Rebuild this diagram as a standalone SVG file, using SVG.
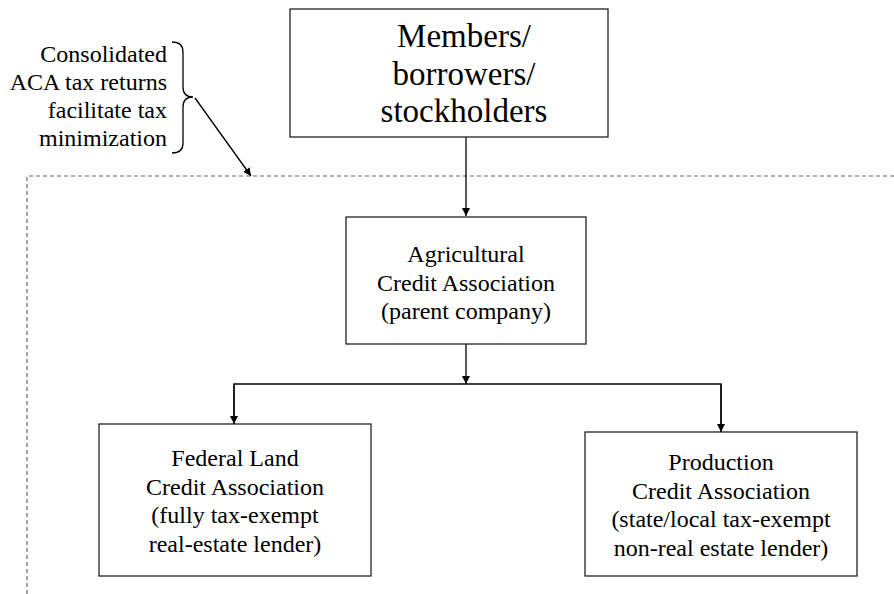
<svg xmlns="http://www.w3.org/2000/svg" width="894" height="594" viewBox="0 0 894 594">
<style>
  .box { fill: #fff; stroke: #222; stroke-width: 1.3; }
  .t { font-family: "Liberation Serif", "Times New Roman", serif; fill: #000; text-anchor: middle; }
  .big { font-size: 33px; }
  .med { font-size: 24px; }
  .ann { font-family: "Liberation Serif", "Times New Roman", serif; font-size: 24px; fill: #000; text-anchor: end; }
  .conn { stroke: #000; stroke-width: 1.3; fill: none; }
  .dash { stroke: #666; stroke-width: 1.2; fill: none; stroke-dasharray: 4 3; }
</style>
<defs>
  <marker id="ah" viewBox="0 0 10 10" refX="10" refY="5" markerWidth="8" markerHeight="8" markerUnits="userSpaceOnUse" orient="auto">
    <path d="M0,0 L10,5 L0,10 Z" fill="#000"/>
  </marker>
</defs>

<g id="boundary">
  <path class="dash" d="M27,594 L27,176 L894,176"/>
</g>

<g id="connectors">
  <line class="conn" x1="466" y1="137" x2="466" y2="216" marker-end="url(#ah)"/>
  <line class="conn" x1="466" y1="344" x2="466" y2="384" marker-end="url(#ah)"/>
  <path class="conn" d="M234,424 L234,384 L721,384 L721,432"/>
  <line class="conn" x1="234" y1="384" x2="234" y2="424" marker-end="url(#ah)"/>
  <line class="conn" x1="721" y1="384" x2="721" y2="432" marker-end="url(#ah)"/>
  <line class="conn" x1="195" y1="98" x2="251" y2="176" marker-end="url(#ah)"/>
</g>

<g id="annotation">
  <text class="ann" x="167" y="62">Consolidated</text>
  <text class="ann" x="167" y="90">ACA tax returns</text>
  <text class="ann" x="167" y="118">facilitate tax</text>
  <text class="ann" x="167" y="146">minimization</text>
  <path class="conn" stroke-width="1" d="M172,42 Q183,42 183,52 L183,87 Q183,97 193,97 Q183,97 183,107 L183,143 Q183,153 172,153"/>
</g>

<g id="members">
  <rect class="box" x="290" y="9" width="318" height="128"/>
  <text class="t big" x="464" y="47">Members/</text>
  <text class="t big" x="464" y="85">borrowers/</text>
  <text class="t big" x="464" y="122">stockholders</text>
</g>

<g id="aca">
  <rect class="box" x="346" y="217" width="240" height="127"/>
  <text class="t med" x="466" y="262">Agricultural</text>
  <text class="t med" x="466" y="291">Credit Association</text>
  <text class="t med" x="466" y="319">(parent company)</text>
</g>

<g id="flca">
  <rect class="box" x="99" y="424" width="272" height="152"/>
  <text class="t med" x="235" y="466">Federal Land</text>
  <text class="t med" x="235" y="495">Credit Association</text>
  <text class="t med" x="235" y="523">(fully tax-exempt</text>
  <text class="t med" x="235" y="552">real-estate lender)</text>
</g>

<g id="pca">
  <rect class="box" x="585" y="432" width="272" height="144"/>
  <text class="t med" x="721" y="470">Production</text>
  <text class="t med" x="721" y="499">Credit Association</text>
  <text class="t med" x="721" y="527">(state/local tax-exempt</text>
  <text class="t med" x="721" y="556">non-real estate lender)</text>
</g>
</svg>
